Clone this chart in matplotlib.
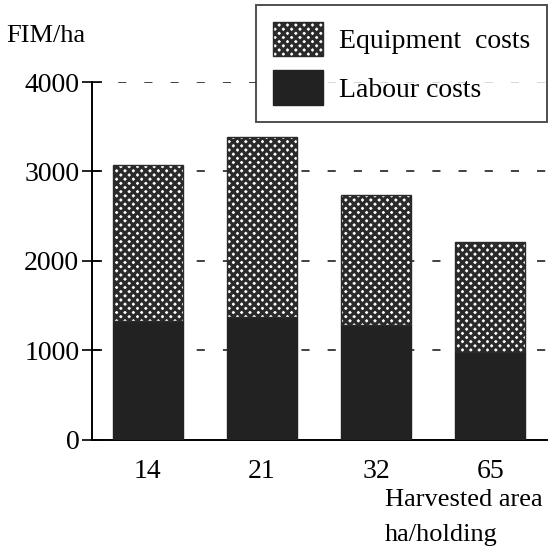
import matplotlib.pyplot as plt
import numpy as np

plt.rcParams['font.family'] = ['Liberation Serif', 'DejaVu Serif']
plt.rcParams['hatch.linewidth'] = 2.3

areas = ['14', '21', '32', '65']
labour = [1330, 1375, 1285, 985]
equipment_total = [3073, 3385, 2737, 2212]
equipment = [t - l for t, l in zip(equipment_total, labour)]

fig = plt.figure(figsize=(5.5, 5.47), dpi=100)
ax = fig.add_axes([0.167, 0.196, 0.828, 0.654])

x = np.arange(len(areas))
w = 0.614
ax.bar(x, labour, w, color='#222222', edgecolor='#222222', zorder=3, label='Labour costs')
ax.bar(x, equipment, w, bottom=labour, color='white', edgecolor='#2a2a2a',
       hatch='xxxx', linewidth=1.0, zorder=3, label='Equipment  costs')

for v in [1000, 2000, 3000, 4000]:
    ax.axhline(v, color='#333333', lw=1.3, ls=(0, (4.5, 10)), zorder=1)

ax.set_xlim(-0.491, 3.5)
ax.set_ylim(0, 4000)
ax.set_yticks([0, 1000, 2000, 3000, 4000])
ax.set_xticks(x)
ax.set_xticklabels(areas)
ax.tick_params(axis='y', direction='inout', length=14, width=1.2, labelsize=20, pad=2)
ax.tick_params(axis='x', length=0, labelsize=20, pad=14)
for s in ['top', 'right']:
    ax.spines[s].set_visible(False)
ax.spines['left'].set_linewidth(1.4)
ax.spines['bottom'].set_linewidth(1.4)

fig.text(0.012, 0.935, 'FIM/ha', fontsize=19, va='center', ha='left')
fig.text(0.70, 0.086, 'Harvested area', fontsize=19, va='center', ha='left')
fig.text(0.70, 0.002, 'ha/holding', fontsize=19, va='bottom', ha='left')

handles, labels = ax.get_legend_handles_labels()
leg = fig.legend(handles[::-1], labels[::-1], loc='upper right', bbox_to_anchor=(0.995, 0.991),
                 borderaxespad=0, fontsize=20, frameon=True, fancybox=False, edgecolor='#222222',
                 handlelength=1.8, handleheight=1.55, handletextpad=0.6,
                 labelspacing=0.5, borderpad=0.6)
leg.get_frame().set_linewidth(1.4)

fig.savefig('out.png', dpi=100)
